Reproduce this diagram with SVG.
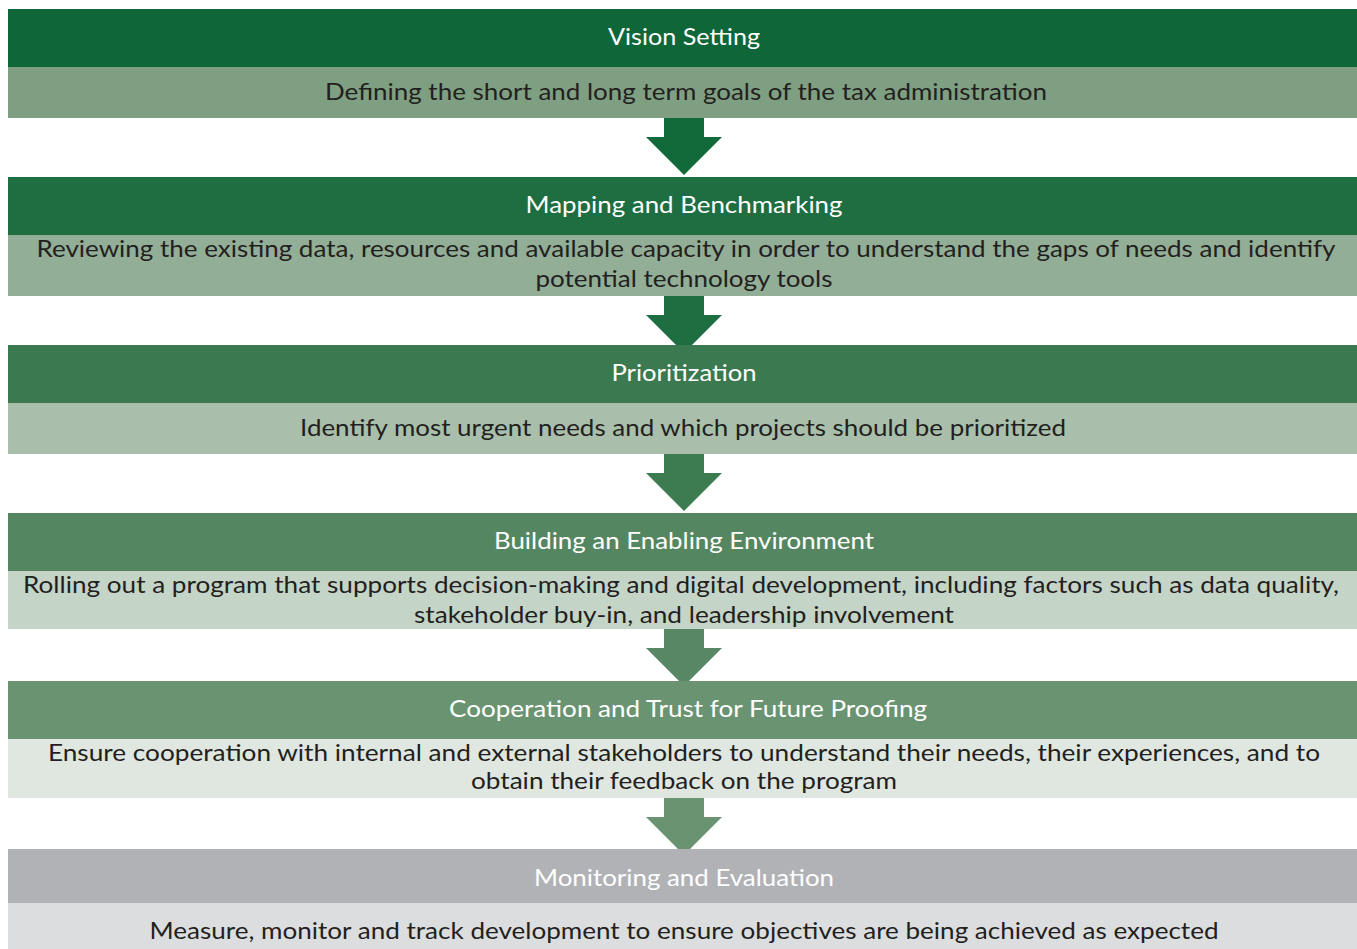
<svg xmlns="http://www.w3.org/2000/svg" width="1357" height="949" viewBox="0 0 1357 949">
  <style>
    .hd { font-family: Lato, "Open Sans", "Liberation Sans", sans-serif; font-size: 23px; fill: #ffffff; text-anchor: middle; }
    .bd { font-family: Lato, "Open Sans", "Liberation Sans", sans-serif; font-size: 23px; fill: #231f20; text-anchor: middle; }
  </style>
  <defs>
    <!-- downward block arrow, origin at top centre of shaft -->
    <path id="down" d="M-20 0 H20 V19 H38 L0 57 L-38 19 H-20 Z"/>
  </defs>
  <rect width="1357" height="949" fill="#ffffff"/>

  <g id="connectors">
    <use href="#down" x="684" y="118" fill="#126a3b"/>
    <use href="#down" x="684" y="296" fill="#1f6e42"/>
    <use href="#down" x="684" y="454" fill="#3d7b51"/>
    <use href="#down" x="684" y="629" fill="#578765"/>
    <use href="#down" x="684" y="798" fill="#6a9372"/>
  </g>

  <g id="vision-setting">
    <rect x="8" y="9" width="1349" height="58" fill="#0f6638"/>
    <rect x="8" y="67" width="1349" height="51" fill="#7f9f82"/>
    <text class="hd" x="684" y="45" textLength="152" lengthAdjust="spacingAndGlyphs">Vision Setting</text>
    <text class="bd" x="686" y="100" textLength="722" lengthAdjust="spacingAndGlyphs">Defining the short and long term goals of the tax administration</text>
  </g>

  <g id="mapping-benchmarking">
    <rect x="8" y="177" width="1349" height="58" fill="#1e6e42"/>
    <rect x="8" y="235" width="1349" height="61" fill="#93ae96"/>
    <text class="hd" x="684" y="213" textLength="317" lengthAdjust="spacingAndGlyphs">Mapping and Benchmarking</text>
    <text class="bd" x="686" y="257" textLength="1299" lengthAdjust="spacingAndGlyphs">Reviewing the existing data, resources and available capacity in order to understand the gaps of needs and identify</text>
    <text class="bd" x="684" y="287" textLength="297" lengthAdjust="spacingAndGlyphs">potential technology tools</text>
  </g>

  <g id="prioritization">
    <rect x="8" y="345" width="1349" height="58" fill="#3b7a50"/>
    <rect x="8" y="403" width="1349" height="51" fill="#a9bfab"/>
    <text class="hd" x="684" y="381" textLength="145" lengthAdjust="spacingAndGlyphs">Prioritization</text>
    <text class="bd" x="683" y="436" textLength="766" lengthAdjust="spacingAndGlyphs">Identify most urgent needs and which projects should be prioritized</text>
  </g>

  <g id="enabling-environment">
    <rect x="8" y="513" width="1349" height="58" fill="#558662"/>
    <rect x="8" y="571" width="1349" height="58" fill="#c4d4c7"/>
    <text class="hd" x="684" y="549" textLength="380" lengthAdjust="spacingAndGlyphs">Building an Enabling Environment</text>
    <text class="bd" x="681" y="593" textLength="1316" lengthAdjust="spacingAndGlyphs">Rolling out a program that supports decision-making and digital development, including factors such as data quality,</text>
    <text class="bd" x="684" y="623" textLength="540" lengthAdjust="spacingAndGlyphs">stakeholder buy-in, and leadership involvement</text>
  </g>

  <g id="cooperation-trust">
    <rect x="8" y="681" width="1349" height="58" fill="#6a9372"/>
    <rect x="8" y="739" width="1349" height="59" fill="#dfe7e0"/>
    <text class="hd" x="688" y="717" textLength="478" lengthAdjust="spacingAndGlyphs">Cooperation and Trust for Future Proofing</text>
    <text class="bd" x="684" y="761" textLength="1272" lengthAdjust="spacingAndGlyphs">Ensure cooperation with internal and external stakeholders to understand their needs, their experiences, and to</text>
    <text class="bd" x="684" y="789" textLength="426" lengthAdjust="spacingAndGlyphs">obtain their feedback on the program</text>
  </g>

  <g id="monitoring-evaluation">
    <rect x="8" y="849" width="1349" height="54" fill="#b1b2b6"/>
    <rect x="8" y="903" width="1349" height="46" fill="#dcdddf"/>
    <text class="hd" x="684" y="886" textLength="300" lengthAdjust="spacingAndGlyphs">Monitoring and Evaluation</text>
    <text class="bd" x="684" y="939" textLength="1069" lengthAdjust="spacingAndGlyphs">Measure, monitor and track development to ensure objectives are being achieved as expected</text>
  </g>
</svg>
